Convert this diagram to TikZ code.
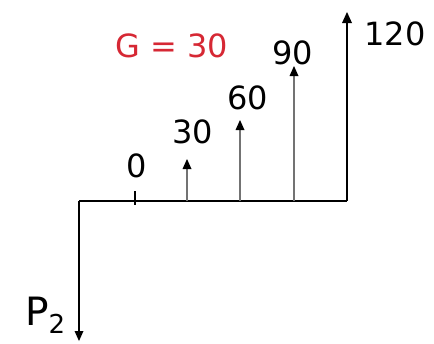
\documentclass[tikz,border=0pt]{standalone}
\usepackage{fontspec}
\setmainfont{DejaVu Sans}
\definecolor{gred}{RGB}{214,40,52}
\begin{document}
\begin{tikzpicture}[x=1pt,y=-1pt,
  lbl/.style={inner sep=0pt,font=\fontsize{32}{38}\selectfont},
  axis/.style={line width=1.4pt,black},
  shaft/.style={line width=1.4pt,black!55},
  uphead/.style={fill=black},
  endshort/.style={shorten >=8pt}]
\useasboundingbox (0,0) rectangle (434,343);
% coordinates
\coordinate (c) at (79,201);
\coordinate (dn) at (79,341);
\coordinate (r) at (347,201);
\coordinate (rt) at (347,12);
\coordinate (t0a) at (135,191);
\coordinate (t0b) at (135,205);
\coordinate (b30) at (187,201); \coordinate (a30) at (187,159);
\coordinate (b60) at (240,201); \coordinate (a60) at (240,120);
\coordinate (b90) at (294,201); \coordinate (a90) at (294,66);
% lines
\draw[axis,endshort] (c) -- (dn);
\draw[axis] (c) -- (r);
\draw[axis,endshort] (r) -- (rt);
\draw[line width=1.4pt] (t0a) -- (t0b);
\draw[shaft,endshort] (b30) -- (a30);
\draw[shaft,endshort] (b60) -- (a60);
\draw[shaft,endshort] (b90) -- (a90);
% arrow heads
\fill[uphead] (dn) -- ++(-4.5,-10) -- ++(9,0) -- cycle;
\fill[uphead] (rt) -- ++(-5,11) -- ++(10,0) -- cycle;
\fill[uphead] (a30) -- ++(-4.5,10) -- ++(9,0) -- cycle;
\fill[uphead] (a60) -- ++(-4.5,10) -- ++(9,0) -- cycle;
\fill[uphead] (a90) -- ++(-4.5,10) -- ++(9,0) -- cycle;
% labels
\node[lbl] (l0) at (137,166) {0};
\node[lbl] (l30) at (193,132) {30};
\node[lbl] (l60) at (248,98) {60};
\node[lbl] (l90) at (293,53) {90};
\node[lbl] (l120) at (395,34) {120};
\node[lbl,text=gred] (g) at (172,46) {G = 30};
\node[inner sep=0pt,anchor=base west] (p2) at (25,325) {\fontsize{39}{44}\selectfont P\raisebox{-0.22em}{\fontsize{26}{30}\selectfont 2}};
\end{tikzpicture}
\end{document}
